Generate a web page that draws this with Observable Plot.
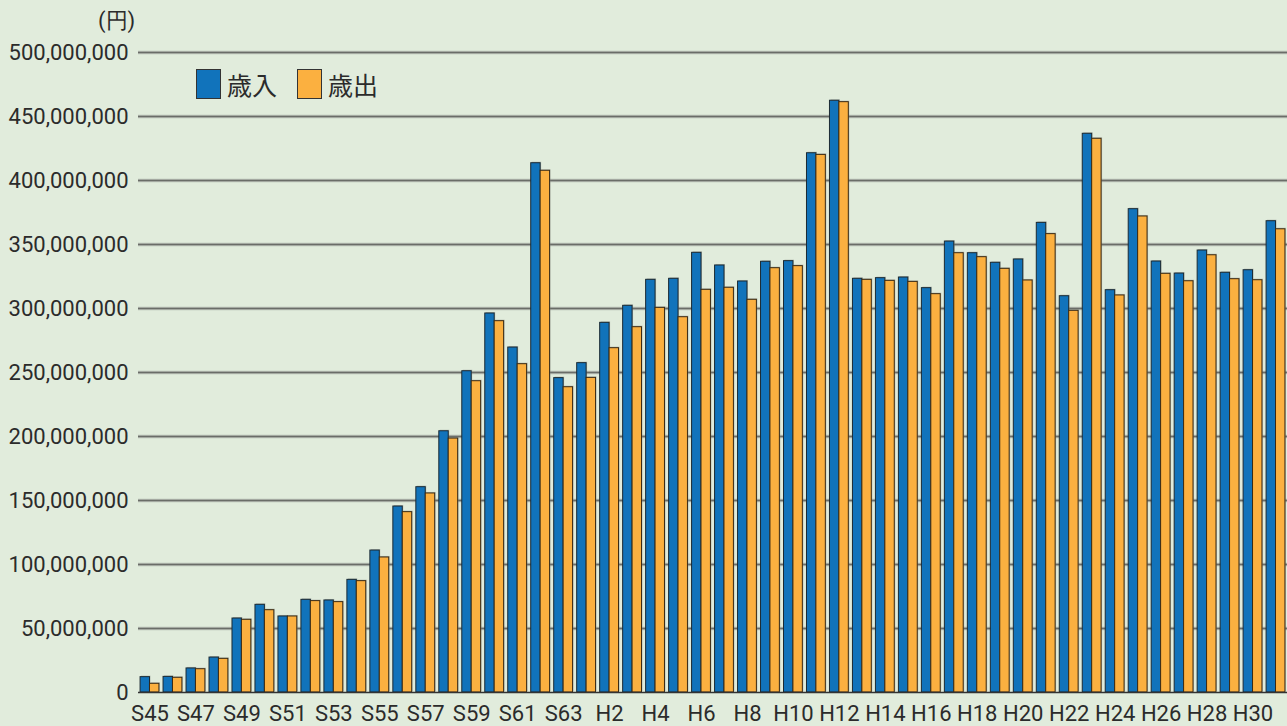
<!DOCTYPE html>
<html>
<head>
<meta charset="utf-8">
<script src="https://cdn.jsdelivr.net/npm/d3@7"></script>
<script src="https://cdn.jsdelivr.net/npm/@observablehq/plot@0.6"></script>
<style>
  html, body { margin: 0; padding: 0; background: #e1ecdc; }
  #wrap { position: relative; width: 1287px; height: 726px; overflow: hidden; background: #e1ecdc; font-family: Roboto, "Noto Sans", sans-serif; color: #2b2b2b; }
  #unit { position: absolute; left: 98px; top: 6px; font-size: 22px; }
  .item { position: absolute; top: 69px; height: 30px; display: flex; align-items: center; font-family: "Noto Sans CJK JP", sans-serif; font-size: 25px; }
  .sw { width: 25px; height: 30px; border: 1px solid #333; box-sizing: border-box; margin-right: 6px; }
</style>
</head>
<body>
<div id="wrap">
  <div id="chart"></div>
  <div id="unit">(円)</div>
</div>
<script>
const years = ["S45","S46","S47","S48","S49","S50","S51","S52","S53","S54",
  "S55","S56","S57","S58","S59","S60","S61","S62","S63",
  "H1","H2","H3","H4","H5","H6","H7","H8","H9","H10",
  "H11","H12","H13","H14","H15","H16","H17","H18","H19","H20",
  "H21","H22","H23","H24","H25","H26","H27","H28","H29","H30","H31"];
const revenue = [12.0,12.2,18.8,27.3,57.8,68.5,59.4,72.4,71.9,88.0,
  110.9,145.3,160.4,204.1,251.0,296.1,269.5,413.5,245.6,
  257.3,288.8,302.1,322.4,323.2,343.5,333.6,321.1,336.5,337.0,
  421.3,462.3,323.2,323.7,324.2,315.9,352.3,343.2,335.7,338.3,
  366.9,309.6,436.5,314.3,377.6,336.7,327.3,345.3,327.9,329.9,368.2].map(v => v * 1e6);
const expenditure = [6.8,11.5,18.2,26.3,56.8,64.3,59.4,71.4,70.6,87.0,
  105.5,140.9,155.5,198.4,243.2,290.1,256.5,407.6,238.5,
  245.8,269.0,285.4,300.5,293.2,314.6,316.2,306.8,331.5,333.1,
  420.0,461.2,322.4,321.6,320.8,311.2,343.2,340.1,331.0,321.9,
  358.1,298.2,432.6,310.2,371.9,327.1,321.3,341.6,322.9,322.1,361.9].map(v => v * 1e6);
const tickLabels = ["S45","S47","S49","S51","S53","S55","S57","S59","S61","S63",
  "H2","H4","H6","H8","H10","H12","H14","H16","H18","H20","H22","H24","H26","H28","H30"];
const yTicks = [0,50e6,100e6,150e6,200e6,250e6,300e6,350e6,400e6,450e6,500e6];
const seriesNames = ["歳入","歳出"];
const seriesColors = ["#1173bb","#fbb040"];

const rows = years.map((y, i) => ({year: y, rev: revenue[i], exp: expenditure[i]}));

const W = 1287, H = 726, mL = 138, mR = 0;
const padIn = 0.18, padOut = 0.09;
const band = d3.scaleBand().domain(years).range([mL, W - mR]).paddingInner(padIn).paddingOuter(padOut);
const half = band.bandwidth() / 2;

const chart = Plot.plot({
  width: W, height: H,
  marginLeft: mL, marginRight: mR, marginTop: 52, marginBottom: 34,
  style: {background: "transparent", fontFamily: "Roboto, 'Noto Sans', sans-serif", fontSize: "22px", color: "#2b2b2b"},
  x: {domain: years, paddingInner: padIn, paddingOuter: padOut, label: null},
  y: {domain: [0, 500e6], label: null},
  marks: [
    Plot.ruleY(yTicks.slice(1), {stroke: "#b8beb4", strokeWidth: 3.5}),
    Plot.ruleY(yTicks.slice(1), {stroke: "#6a6d68", strokeWidth: 1.6}),
    Plot.barY(rows, {x: "year", y: "rev", insetRight: half, fill: "#8a8f88", fillOpacity: 0.5, dx: 1, dy: -1}),
    Plot.barY(rows, {x: "year", y: "exp", insetLeft: half, fill: "#8a8f88", fillOpacity: 0.5, dx: 1, dy: -1}),
    Plot.barY(rows, {x: "year", y: "rev", insetRight: half, fill: seriesColors[0], stroke: "#1b2a33", strokeWidth: 1}),
    Plot.barY(rows, {x: "year", y: "exp", insetLeft: half, fill: seriesColors[1], stroke: "#3a2a14", strokeWidth: 1}),
    Plot.ruleY([0], {stroke: "#333", strokeWidth: 1.6}),
    Plot.axisY({ticks: yTicks, tickSize: 0, tickPadding: 10, tickFormat: d3.format(","), fontSize: 22}),
    Plot.axisX({ticks: tickLabels, tickSize: 0, tickPadding: 13, fontSize: 22})
  ]
});
document.getElementById("chart").appendChild(chart);

const wrap = document.getElementById("wrap");
const legendLeft = [196, 297];
seriesNames.forEach((n, i) => {
  const it = document.createElement("div");
  it.className = "item";
  it.style.left = legendLeft[i] + "px";
  const sw = document.createElement("div");
  sw.className = "sw";
  sw.style.background = seriesColors[i];
  const t = document.createElement("span");
  t.textContent = n;
  it.appendChild(sw); it.appendChild(t);
  wrap.appendChild(it);
});
</script>
</body>
</html>
